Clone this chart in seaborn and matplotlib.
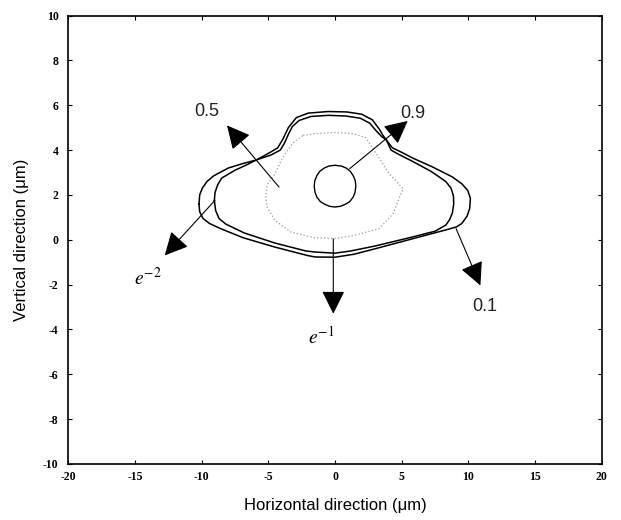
import matplotlib
matplotlib.use("Agg")
import matplotlib.pyplot as plt
import seaborn as sns
import pandas as pd

# ---- data (in micrometres) ----
c01_x = [-10.2, -10.15, -9.95, -9.6, -9.1, -8.0, -6.9, -5.9, -4.8, -4.1, -3.8, -3.5, -3.2, -2.7, -1.8, -0.5,
         0.8, 1.9, 2.6, 3.1, 3.5, 3.85, 4.3, 5.0, 5.8, 7.3, 8.8, 9.5, 9.95, 10.15, 10.1, 9.9, 9.5, 9.1, 8.2,
         5.8, 2.9, 1.4, 0.0, -1.5, -2.1, -4.5, -6.9, -8.6, -9.4, -9.9, -10.15, -10.2]
c01_y = [1.6, 2.0, 2.3, 2.6, 2.85, 3.2, 3.4, 3.56, 3.78, 4.0, 4.3, 4.7, 5.05, 5.32, 5.5, 5.55,
         5.52, 5.42, 5.2, 4.85, 4.6, 4.45, 4.1, 3.9, 3.65, 3.25, 2.8, 2.5, 2.2, 1.85, 1.4, 1.05, 0.72, 0.57,
         0.42, 0.04, -0.42, -0.65, -0.78, -0.77, -0.7, -0.33, 0.09, 0.5, 0.72, 0.95, 1.25, 1.6]

ce2_x = [-9.05, -9.0, -8.8, -8.5, -7.5, -6.6, -5.9, -5.0, -4.3, -3.9, -3.5, -2.9, -2.0, -0.5, 0.9, 2.0, 2.8,
         3.3, 3.6, 3.85, 4.2, 4.8, 5.8, 7.2, 8.3, 8.7, 8.88, 8.9, 8.8, 8.6, 8.3, 7.5, 5.8, 3.0, 1.2, 0.0,
         -1.5, -2.2, -4.5, -6.8, -8.2, -8.7, -8.95, -9.05]
ce2_y = [1.75, 2.1, 2.45, 2.75, 3.1, 3.35, 3.56, 3.85, 4.1, 4.5, 5.0, 5.45, 5.65, 5.72, 5.7, 5.6, 5.35,
         4.95, 4.65, 4.45, 4.0, 3.8, 3.5, 3.05, 2.6, 2.3, 1.95, 1.6, 1.2, 0.9, 0.65, 0.38, 0.12, -0.28,
         -0.5, -0.6, -0.55, -0.5, -0.15, 0.3, 0.7, 0.95, 1.3, 1.75]

ce1_x = [-2.4, -1.55, 0.0, 1.4, 2.3, 2.6, 4.06, 5.1, 4.35, 3.3, 1.4, 0.0, -1.55, -3.3, -4.5, -5.1,
         -5.2, -5.1, -4.5, -3.9, -3.2, -2.4]
ce1_y = [4.66, 4.73, 4.78, 4.73, 4.55, 4.29, 2.95, 2.28, 1.16, 0.49, 0.19, 0.05, 0.09, 0.34, 0.86, 1.46,
         1.9, 2.43, 2.95, 3.69, 4.29, 4.66]

c09_x = [0.0, 0.45, 0.83, 1.15, 1.36, 1.52, 1.56, 1.5, 1.36, 1.1, 0.77, 0.4, 0.0, -0.4, -0.77, -1.1,
         -1.36, -1.5, -1.56, -1.52, -1.36, -1.15, -0.8, -0.45, 0.0]
c09_y = [3.32, 3.29, 3.2, 3.05, 2.86, 2.63, 2.38, 2.12, 1.9, 1.7, 1.58, 1.49, 1.46, 1.49, 1.58, 1.7,
         1.9, 2.12, 2.38, 2.63, 2.86, 3.05, 3.2, 3.29, 3.32]

labels = ["0.5", "0.9", "$e^{-2}$", "$e^{-1}$", "0.1"]
arrow_tail = [(-4.2, 2.35), (1.1, 3.17), (-9.0, 1.76), (-0.13, 0.04), (9.08, 0.49)]
arrow_head = [(-8.1, 5.1), (5.45, 5.3), (-12.77, -0.7), (-0.13, -3.3), (10.9, -2.04)]
label_pos = [(-9.6, 5.7), (5.85, 5.62), (-14.0, -1.7), (-1.0, -4.3), (11.2, -3.0)]

x_ticks = [-20, -15, -10, -5, 0, 5, 10, 15, 20]
y_ticks = [-10, -8, -6, -4, -2, 0, 2, 4, 6, 8, 10]

# ---- styling ----
sns.set_theme(style="white")
plt.rcParams["font.family"] = ["Liberation Sans", "DejaVu Sans"]
plt.rcParams["axes.unicode_minus"] = False
plt.rcParams["mathtext.fontset"] = "stix"

fig = plt.figure(figsize=(6.21, 5.2), dpi=100)
ax = fig.add_axes([0.110, 0.108, 0.859, 0.862])

sns.lineplot(x=c01_x, y=c01_y, sort=False, estimator=None, color="black", lw=1.1, ax=ax)
sns.lineplot(x=ce2_x, y=ce2_y, sort=False, estimator=None, color="black", lw=1.1, ax=ax)
sns.lineplot(x=ce1_x, y=ce1_y, sort=False, estimator=None, color="#a8a8a8", lw=1.0,
             linestyle=(0, (1, 1.5)), ax=ax)
sns.lineplot(x=c09_x, y=c09_y, sort=False, estimator=None, color="black", lw=1.0, ax=ax)

for lab, t, h, p in zip(labels, arrow_tail, arrow_head, label_pos):
    ax.annotate("", xy=h, xytext=t,
                arrowprops=dict(arrowstyle="-|>,head_length=0.9,head_width=0.45",
                                color="black", lw=0.8, shrinkA=0, shrinkB=0, mutation_scale=16))
    if lab.startswith("$"):
        ax.text(p[0], p[1], lab, fontsize=14, ha="center", va="center", color="black")
    else:
        ax.text(p[0], p[1], lab, fontsize=13, ha="center", va="center", color="#222222",
                fontweight="light")

ax.set_xlim(-20, 20)
ax.set_ylim(-10, 10)
ax.set_xticks(x_ticks)
ax.set_yticks(y_ticks)
ax.set_xticklabels([str(v) for v in x_ticks], family="Liberation Serif", fontweight="bold", fontsize=8.5)
ax.set_yticklabels([str(v) for v in y_ticks], family="Liberation Serif", fontweight="bold", fontsize=8.5)
ax.tick_params(direction="in", length=3, width=0.8, top=True, right=True, bottom=True, left=True,
               colors="black")
ax.tick_params(axis="y", pad=7)
ax.tick_params(axis="x", pad=5)
for s in ax.spines.values():
    s.set_color("black")
    s.set_linewidth(1.2)

ax.set_xlabel("Horizontal direction (\u03bcm)", fontsize=12, labelpad=11, color="black")
ax.set_ylabel("Vertical direction (\u03bcm)", fontsize=12, labelpad=10, color="black")

fig.savefig("out.png", dpi=100, facecolor="white")
